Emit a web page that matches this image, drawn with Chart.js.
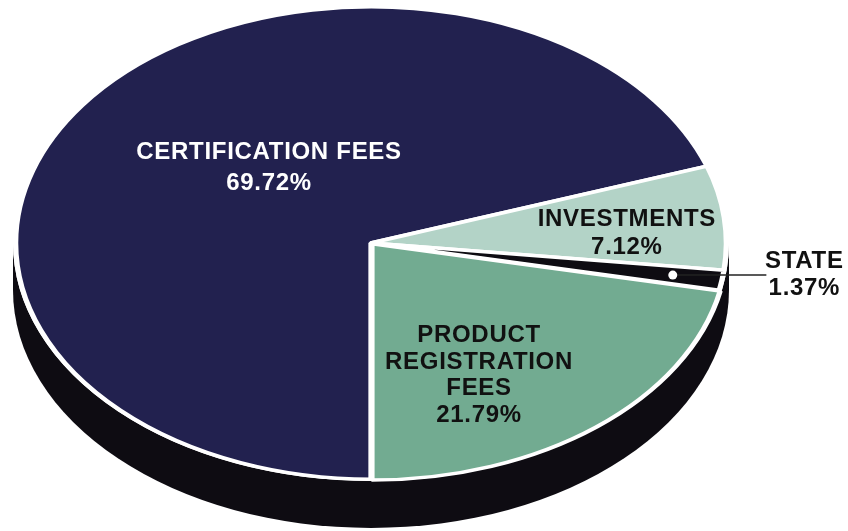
<!DOCTYPE html>
<html>
<head>
<meta charset="utf-8">
<script src="https://cdn.jsdelivr.net/npm/chart.js@4.4.1/dist/chart.umd.min.js"></script>
<style>
    html, body { margin: 0; padding: 0; background: #ffffff; }
    #wrap { width: 848px; height: 531px; position: relative; }
</style>
</head>
<body>
<div id="wrap"><canvas id="revenue-pie"></canvas></div>
<script>
// Revenue breakdown (percent of total)
const categories = ['CERTIFICATION FEES', 'INVESTMENTS', 'STATE', 'PRODUCT REGISTRATION FEES'];
const shares = [69.72, 7.12, 1.37, 21.79];
const labelLines = [['CERTIFICATION FEES'], ['INVESTMENTS'], ['STATE'], ['PRODUCT', 'REGISTRATION', 'FEES']];

const sliceColors = ['#22214f', '#b3d3c7', '#0e0c12', '#72ab91'];
const textColors = ['#ffffff', '#111111', '#111111', '#111111'];
const sideColor = '#0e0c12';
const DEPTH = 47;        // thickness of the 3d rim
const BORDER = 3.5;

// label anchors, in units of the ellipse radii from the centre (state is placed by its leader)
const labelAnchor = [[-0.287, -0.317], [0.72, -0.04], null, [0.304, 0.561]];
const lineGap = [31, 28, 27, 26.5];

function pieGeometry(chart) {
    const area = chart.chartArea;
    const arc = chart.getDatasetMeta(0).data[0];
    const stretch = area.width / area.height;
    return { cx: arc.x, cy: arc.y, r: arc.outerRadius, stretch: stretch };
}

// squash the flat pie into an ellipse and give it a dark rim underneath
const pie3d = {
    id: 'pie3d',
    beforeDatasetsDraw(chart) {
        const ctx = chart.ctx;
        const g = pieGeometry(chart);
        ctx.save();
        ctx.translate(g.cx, g.cy);
        ctx.scale(g.stretch, 1);
        ctx.translate(-g.cx, -g.cy);

        // rim
        ctx.fillStyle = sideColor;
        ctx.beginPath();
        ctx.arc(g.cx, g.cy + DEPTH, g.r + BORDER / 2, 0, Math.PI * 2);
        ctx.fill();
        ctx.fillRect(g.cx - g.r - BORDER / 2, g.cy, (g.r + BORDER / 2) * 2, DEPTH);

        // white under the top face so gaps read as white
        ctx.fillStyle = '#ffffff';
        ctx.beginPath();
        ctx.arc(g.cx, g.cy, g.r + BORDER / 2, 0, Math.PI * 2);
        ctx.fill();
    },
    afterDatasetsDraw(chart) {
        chart.ctx.restore();
    },
    afterDraw(chart) {
        const ctx = chart.ctx;
        const g = pieGeometry(chart);
        const rx = g.r * g.stretch, ry = g.r;
        ctx.save();
        ctx.font = 'bold 24px "Liberation Sans", Arial, sans-serif';
        ctx.letterSpacing = '0.7px';
        ctx.textAlign = 'center';
        ctx.textBaseline = 'middle';

        chart.getDatasetMeta(0).data.forEach(function(arc, i) {
            const lines = labelLines[i].concat([shares[i].toFixed(2) + '%']);
            let x, y;
            if (labelAnchor[i]) {
                x = g.cx + labelAnchor[i][0] * rx;
                y = g.cy + labelAnchor[i][1] * ry;
            } else {
                // small slice: dot + leader line out to the right
                const mid = (arc.startAngle + arc.endAngle) / 2;
                const dx = g.cx + Math.cos(mid) * 0.86 * rx;
                const dy = g.cy + Math.sin(mid) * 0.86 * ry;
                const tx = g.cx + rx + 40;
                ctx.strokeStyle = '#222222';
                ctx.lineWidth = 1.5;
                ctx.beginPath();
                ctx.moveTo(dx, dy);
                ctx.lineTo(tx, dy);
                ctx.stroke();
                ctx.fillStyle = '#ffffff';
                ctx.beginPath();
                ctx.arc(dx, dy, 4.5, 0, Math.PI * 2);
                ctx.fill();
                x = tx + 38;
                y = dy;
            }
            ctx.fillStyle = textColors[i];
            const top = y - (lines.length - 1) * lineGap[i] / 2;
            lines.forEach(function(t, k) {
                ctx.fillText(t, x, top + k * lineGap[i]);
            });
        });
        ctx.restore();
    }
};

new Chart(document.getElementById('revenue-pie'), {
    type: 'pie',
    data: {
        labels: categories,
        datasets: [{
            data: shares,
            backgroundColor: sliceColors,
            borderColor: '#ffffff',
            borderWidth: BORDER,
            offset: [0, 0, 0, 4],
            clip: false
        }]
    },
    options: {
        responsive: true,
        maintainAspectRatio: false,
        animation: false,
        events: [],
        rotation: 180,
        layout: { padding: { left: 10, right: 116, top: 3, bottom: 48 } },
        plugins: {
            legend: { display: false },
            tooltip: { enabled: false }
        }
    },
    plugins: [pie3d]
});
</script>
</body>
</html>
